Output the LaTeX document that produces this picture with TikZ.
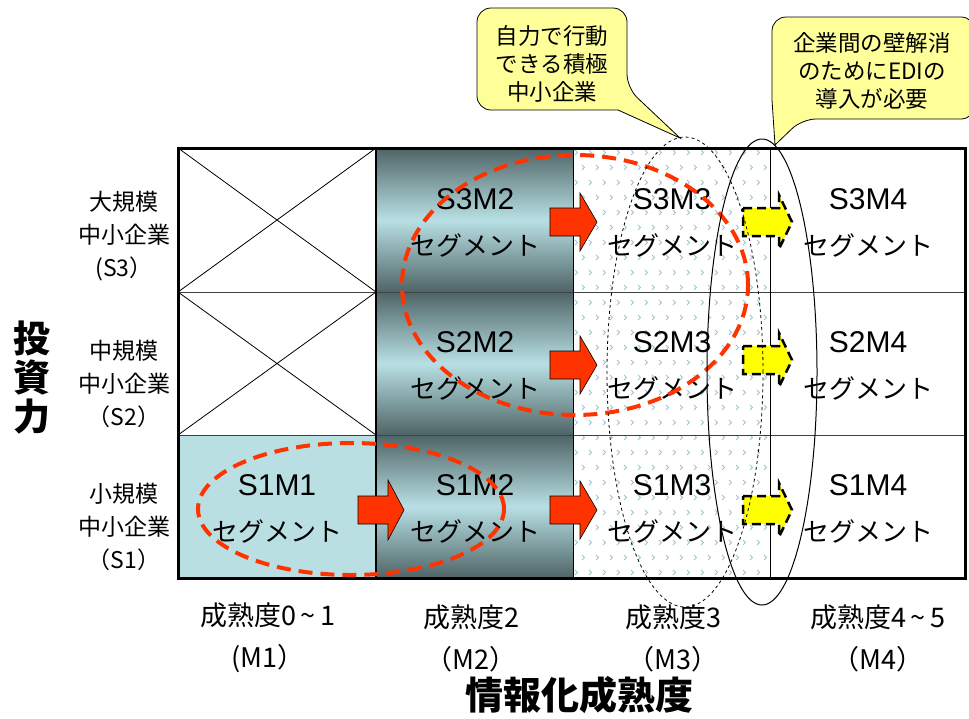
\documentclass[tikz,border=0pt]{standalone}
\usepackage{fontspec}
\setmainfont{Liberation Sans}
\newfontfamily\jp{Noto Sans CJK JP}
\definecolor{redA}{HTML}{FF3300}
\definecolor{yelA}{HTML}{FFFF00}
\definecolor{callY}{HTML}{FFFF99}
\definecolor{cellB}{HTML}{BADFE3}
\definecolor{darkG}{HTML}{4F6466}
\definecolor{lightG}{HTML}{B8E0E4}
\definecolor{patB}{HTML}{8FCBD6}
\begin{document}
\begin{tikzpicture}[x=1pt,y=-1pt,
  jptxt/.style={font=\jp\fontsize{26}{30}\selectfont, inner sep=0pt},
  codetxt/.style={font=\fontsize{30}{34}\selectfont, inner sep=0pt},
  rowlbl/.style={font=\jp\fontsize{23}{33}\selectfont, align=center, inner sep=0pt},
  collbl/.style={font=\jp\fontsize{27}{42}\selectfont, align=center, inner sep=0pt},
  axistitle/.style={font=\jp\bfseries\fontsize{38}{40}\selectfont, align=center, inner sep=0pt},
  calltxt/.style={font=\jp\fontsize{22.5}{28}\selectfont, align=center, inner sep=0pt},
  redarr/.style={fill=redA, draw=black, line width=0.6pt},
  yelarr/.style={fill=yelA, draw=black, line width=2.5pt, dash pattern=on 9pt off 5pt},
  redell/.style={draw=redA, line width=4pt, dash pattern=on 14pt off 8pt},
  callout/.style={fill=callY, draw=black, line width=0.8pt}]
\useasboundingbox (0,0) rectangle (969,718);
% cell fills
\fill[cellB] (178,435) rectangle (376,578);
\foreach \a/\b in {148/292,292/435,435/578}
  \shade[top color=darkG,bottom color=darkG,middle color=lightG] (376,\a) rectangle (573,\b);
\begin{scope}
  \clip (573,148) rectangle (770,578);
  \foreach \i in {0,...,14}
    \foreach \j in {0,...,29}
      \draw[patB, line width=1pt]
        ({575+14*\i+7*mod(\j,2)},{150+15*\j}) -- ++(2.5,2.5) -- ++(-2.5,2.5);
\end{scope}
% grid
\draw[line width=1pt, black!75] (178,292) -- (965,292) (178,435) -- (965,435);
\draw[line width=1.5pt] (376,148) -- (376,578);
\draw[line width=1pt] (573,148) -- (573,578) (770,148) -- (770,578);
\draw[line width=0.8pt] (178,148) -- (376,292) (178,292) -- (376,148)
  (178,292) -- (376,435) (178,435) -- (376,292);
\draw[line width=3pt] (178,148) rectangle (965,578);
% cell texts
\foreach \r/\c/\xc/\yc in {3/2/475/220,3/3/672/220,3/4/868/220,
  2/2/475/363,2/3/672/363,2/4/868/363,
  1/1/277/506,1/2/475/506,1/3/672/506,1/4/868/506}{
  \node[codetxt] (c\r\c) at (\xc,\yc-21) {S\r M\c};
  \node[jptxt] (g\r\c) at (\xc,\yc+25) {セグメント};
}
% row labels
\node[rowlbl] (row3) at (124,236) {大規模\\中小企業\\(S3）};
\node[rowlbl] (row2) at (124,384) {中規模\\中小企業\\（S2）};
\node[rowlbl] (row1) at (124,527) {小規模\\中小企業\\（S1）};
% column labels
\node[collbl] (m1) at (268,638) {成熟度0\,\textasciitilde\,1\\(M1）};
\node[collbl] (m2) at (471,638) {成熟度2\\（M2）};
\node[collbl] (m3) at (673,638) {成熟度3\\（M3）};
\node[collbl] (m4) at (878,638) {成熟度4\,\textasciitilde\,5\\（M4）};
% axis titles
\node[axistitle] (xt) at (579,695) {情報化成熟度};
\node[axistitle, font=\jp\bfseries\fontsize{37}{39}\selectfont] (yt) at (32,378) {投\\資\\力};
% red arrows
\filldraw[redarr] (358,496) -- (388,496) -- (388,480) -- (404,510) -- (388,540) -- (388,524) -- (358,524) -- cycle;
\foreach \y in {222,365,510}
  \filldraw[redarr] (550,\y-14) -- (580,\y-14) -- (580,\y-29) -- (597,\y) -- (580,\y+29) -- (580,\y+14) -- (550,\y+14) -- cycle;
% yellow arrows
\foreach \y in {222,360,510}
  \filldraw[yelarr] (743,\y-14) -- (779,\y-14) -- (779,\y-27) -- (792,\y) -- (779,\y+27) -- (779,\y+14) -- (743,\y+14) -- cycle;
% ellipses
\draw[redell] (351,509) ellipse [x radius=153pt, y radius=66pt];
\draw[redell] (575,285) ellipse [x radius=173pt, y radius=130pt];
\draw[line width=0.8pt, dash pattern=on 3pt off 3pt] (685,372) ellipse [x radius=78pt, y radius=235pt];
\draw[line width=1pt] (762,372) ellipse [x radius=55pt, y radius=233pt];
% callouts
\filldraw[callout] [rounded corners=14pt] (477,8) -- (627,8) -- (627,88) [sharp corners] -- (680,138) -- (618,110) [rounded corners=14pt] -- (477,110) -- cycle;
\node[calltxt] (call1) at (552,64) {自力で行動\\できる積極\\中小企業};
\filldraw[callout] [rounded corners=14pt] (772,17) -- (975,17) -- (975,119) -- (802,119) [sharp corners] -- (775,145) -- (772,100) [rounded corners=14pt] -- cycle;
\node[calltxt] (call2) at (872,71) {企業間の壁解消\\のためにEDIの\\導入が必要};
\end{tikzpicture}
\end{document}
